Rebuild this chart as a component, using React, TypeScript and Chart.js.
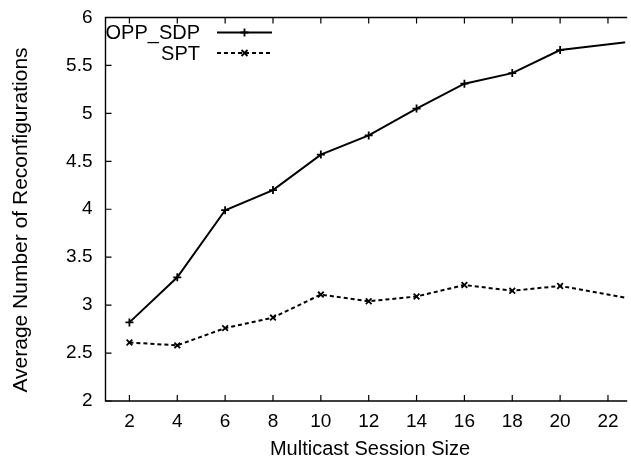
import React, { useEffect, useRef } from 'react';
import { Chart, registerables } from 'chart.js';

Chart.register(...registerables);

// ---- data ----
const sessionSizes = [2, 4, 6, 8, 10, 12, 14, 16, 18, 20, 24];
const oppSdpValues = [2.82, 3.29, 3.99, 4.2, 4.57, 4.77, 5.05, 5.31, 5.42, 5.66, 5.78];
const sptValues = [2.61, 2.58, 2.76, 2.87, 3.11, 3.04, 3.09, 3.21, 3.15, 3.2, 3.02];
const seriesNames = ['OPP_SDP', 'SPT'];
const xTickValues = [2, 4, 6, 8, 10, 12, 14, 16, 18, 20, 22];
const yTickValues = [2, 2.5, 3, 3.5, 4, 4.5, 5, 5.5, 6];
const xTitle = 'Multicast Session Size';
const yTitle = 'Average Number of Reconfigurations';

const FONT = '"Liberation Sans", Arial, Helvetica, sans-serif';

const framePlugin = {
  id: 'gnuplotFrame',
  afterDraw(chart: any) {
    const ctx = chart.ctx as CanvasRenderingContext2D;
    const ca = chart.chartArea;
    const xs = chart.scales.x;
    const ys = chart.scales.y;
    ctx.save();
    ctx.strokeStyle = '#000';
    ctx.lineWidth = 1.4;
    ctx.setLineDash([]);
    // box (right side is cropped)
    ctx.beginPath();
    ctx.moveTo(ca.right + 2, ca.top);
    ctx.lineTo(ca.left, ca.top);
    ctx.lineTo(ca.left, ca.bottom);
    ctx.lineTo(ca.right + 2, ca.bottom);
    ctx.stroke();
    // inward ticks
    const tl = 6;
    ctx.lineWidth = 1.2;
    ctx.beginPath();
    for (const v of xTickValues) {
      const px = xs.getPixelForValue(v);
      ctx.moveTo(px, ca.bottom);
      ctx.lineTo(px, ca.bottom - tl);
      ctx.moveTo(px, ca.top);
      ctx.lineTo(px, ca.top + tl);
    }
    for (const v of yTickValues) {
      const py = ys.getPixelForValue(v);
      ctx.moveTo(ca.left, py);
      ctx.lineTo(ca.left + tl, py);
    }
    ctx.stroke();

    // axis titles
    ctx.fillStyle = '#000';
    ctx.font = `20px ${FONT}`;
    ctx.textAlign = 'center';
    ctx.textBaseline = 'middle';
    ctx.fillText(xTitle, 370, 449);
    ctx.save();
    ctx.font = `21px ${FONT}`;
    ctx.translate(21.5, 220);
    ctx.rotate(-Math.PI / 2);
    ctx.fillText(yTitle, 0, 0);
    ctx.restore();

    // legend (gnuplot style: text, then sample)
    const rows = [32.5, 53];
    chart.data.datasets.forEach((ds: any, i: number) => {
      const y = rows[i];
      ctx.textAlign = 'right';
      ctx.textBaseline = 'middle';
      ctx.fillStyle = '#000';
      ctx.font = `20px ${FONT}`;
      ctx.fillText(ds.label, 200, y + 1);
      ctx.strokeStyle = '#000';
      ctx.lineWidth = ds.borderWidth;
      ctx.setLineDash(ds.borderDash || []);
      ctx.beginPath();
      ctx.moveTo(217, y);
      ctx.lineTo(272, y);
      ctx.stroke();
      ctx.setLineDash([]);
      ctx.lineWidth = ds.pointBorderWidth;
      const cx = 244.5;
      const r = ds.pointRadius;
      ctx.beginPath();
      if (ds.pointStyle === 'cross') {
        ctx.moveTo(cx - r, y);
        ctx.lineTo(cx + r, y);
        ctx.moveTo(cx, y - r);
        ctx.lineTo(cx, y + r);
      } else {
        const d = r * 0.75;
        ctx.moveTo(cx - d, y - d);
        ctx.lineTo(cx + d, y + d);
        ctx.moveTo(cx - d, y + d);
        ctx.lineTo(cx + d, y - d);
      }
      ctx.stroke();
    });
    ctx.restore();
  },
};

export default function App() {
  const canvasRef = useRef<HTMLCanvasElement | null>(null);

  useEffect(() => {
    if (!canvasRef.current) return;
    const chart = new Chart(canvasRef.current, {
      type: 'line',
      data: {
        datasets: [
          {
            label: seriesNames[0],
            data: sessionSizes.map((x, i) => ({ x, y: oppSdpValues[i] })),
            borderColor: '#000',
            backgroundColor: '#000',
            borderWidth: 2,
            pointStyle: 'cross',
            pointRadius: 4,
            pointBorderWidth: 1.8,
            pointBorderColor: '#000',
            fill: false,
            tension: 0,
          },
          {
            label: seriesNames[1],
            data: sessionSizes.map((x, i) => ({ x, y: sptValues[i] })),
            borderColor: '#000',
            backgroundColor: '#000',
            borderWidth: 2,
            borderDash: [4, 3],
            pointStyle: 'crossRot',
            pointRadius: 4,
            pointBorderWidth: 1.8,
            pointBorderColor: '#000',
            fill: false,
            tension: 0,
          },
        ],
      },
      options: {
        responsive: true,
        maintainAspectRatio: false,
        animation: false,
        layout: { padding: { top: 17.5, right: 0, left: 0, bottom: 0 } },
        plugins: {
          legend: { display: false },
          tooltip: { enabled: false },
          title: { display: false },
        },
        scales: {
          x: {
            type: 'linear',
            position: 'bottom',
            min: 1,
            max: 22.72,
            grid: { display: false, drawTicks: false },
            border: { display: false },
            afterBuildTicks: (scale: any) => {
              scale.ticks = xTickValues.map((v) => ({ value: v }));
            },
            afterFit: (scale: any) => {
              scale.height = 63;
              scale.paddingLeft = 0;
              scale.paddingRight = 0;
            },
            ticks: {
              autoSkip: false,
              maxRotation: 0,
              padding: 9,
              color: '#000',
              font: { family: FONT, size: 19 },
              callback: (v: any) => String(v),
            },
          },
          y: {
            type: 'linear',
            position: 'left',
            min: 2,
            max: 6,
            grid: { display: false, drawTicks: false },
            border: { display: false },
            afterBuildTicks: (scale: any) => {
              scale.ticks = yTickValues.map((v) => ({ value: v }));
            },
            afterFit: (scale: any) => {
              scale.width = 105.5;
              scale.paddingTop = 0;
              scale.paddingBottom = 0;
            },
            ticks: {
              autoSkip: false,
              padding: 13,
              color: '#000',
              font: { family: FONT, size: 19 },
              callback: (v: any) => String(v),
            },
          },
        },
      },
      plugins: [framePlugin],
    });
    return () => chart.destroy();
  }, []);

  return (
    <div style={{ position: 'absolute', left: 0, top: 0, width: 631, height: 464, background: '#fff' }}>
      <canvas ref={canvasRef} />
    </div>
  );
}
